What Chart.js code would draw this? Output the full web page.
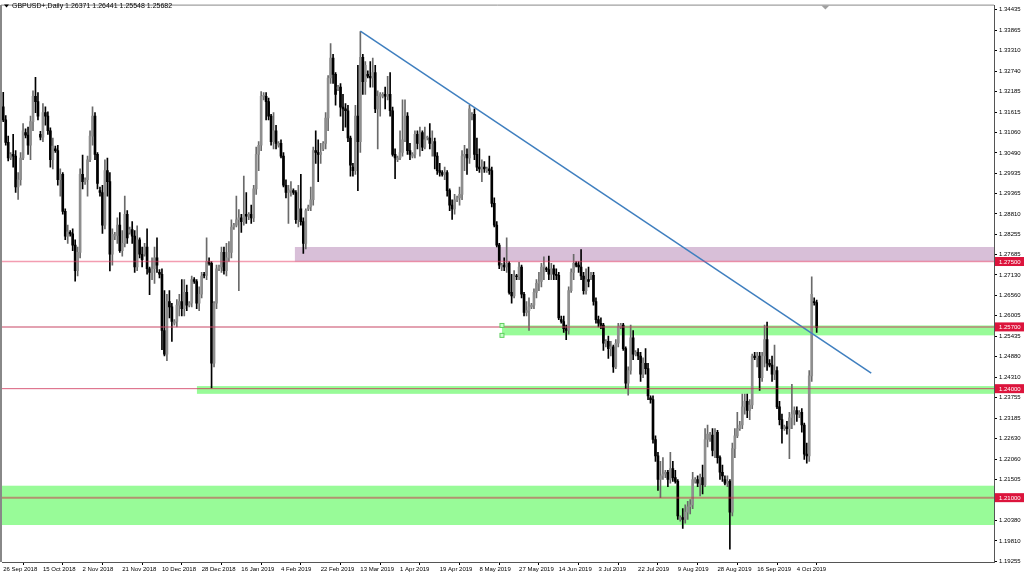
<!DOCTYPE html>
<html><head><meta charset="utf-8">
<script src="https://cdn.jsdelivr.net/npm/chart.js@4.4.1/dist/chart.umd.min.js"></script>
<style>html,body{margin:0;padding:0;background:#fff;overflow:hidden}canvas{display:block}</style>
</head><body>
<canvas id="c" width="1024" height="577"></canvas>
<script>
// ---- Daily GBPUSD candles (bar 0 = 26 Sep 2018, one bar per trading day incl. Sunday bars) ----
const opens = [
1.3176,1.3140,1.3078,1.3035,1.3045,1.3040,1.2955,1.2975,1.3035,1.3105,
1.3098,1.3070,1.3135,1.3205,1.3190,1.3100,1.3092,1.3160,1.3150,1.3110,
1.3030,1.3060,1.3055,1.2975,1.2990,1.2888,1.2820,1.2830,1.2826,1.2795,
1.2725,1.2775,1.2990,1.2970,1.2975,1.3030,1.3095,1.3150,1.3045,1.2945,
1.2940,1.2850,1.3000,1.2970,1.2770,1.2820,1.2822,1.2850,1.2780,1.2800,
1.2880,1.2830,1.2838,1.2820,1.2735,1.2810,1.2770,1.2770,1.2790,1.2730,
1.2720,1.2730,1.2760,1.2720,1.2715,1.2560,1.2495,1.2640,1.2625,1.2580,
1.2585,1.2630,1.2640,1.2620,1.2665,1.2630,1.2635,1.2700,1.2695,1.2635,
1.2660,1.2715,1.2712,1.2750,1.2745,1.2470,1.2635,1.2730,1.2735,1.2775,
1.2725,1.2760,1.2775,1.2845,1.2850,1.2865,1.2870,1.2860,1.2880,1.2875,
1.2880,1.2870,1.2950,1.3045,1.3070,1.3205,1.3205,1.3190,1.3150,1.3080,
1.3110,1.3070,1.3075,1.3040,1.2960,1.2940,1.2945,1.2945,1.2940,1.2865,
1.2895,1.2860,1.2800,1.2895,1.2900,1.2920,1.3055,1.3050,1.3045,1.3060,
1.3075,1.3145,1.3255,1.3310,1.3265,1.3225,1.3230,1.3175,1.3170,1.3165,
1.3090,1.3010,1.3000,1.3150,1.3080,1.3312,1.3245,1.3265,1.3260,1.3255,
1.3270,1.3170,1.3205,1.3205,1.3210,1.3205,1.3210,1.3165,1.3045,1.3030,
1.3035,1.3050,1.3085,1.3150,1.3055,1.3040,1.3045,1.3100,1.3075,1.3105,
1.3065,1.3090,1.3090,1.3075,1.3080,1.3040,1.3000,1.2995,1.2990,1.2995,
1.2945,1.2905,1.2895,1.2920,1.2925,1.2935,1.3040,1.3045,1.3035,1.3150,
1.3155,1.3045,1.3010,1.3005,1.3010,1.3000,1.3005,1.3000,1.2910,1.2850,
1.2795,1.2735,1.2740,1.2735,1.2745,1.2665,1.2655,1.2710,1.2708,1.2735,
1.2660,1.2610,1.2615,1.2625,1.2630,1.2665,1.2690,1.2695,1.2735,1.2730,
1.2728,1.2715,1.2730,1.2715,1.2712,1.2590,1.2585,1.2565,1.2560,1.2670,
1.2720,1.2745,1.2740,1.2735,1.2710,1.2670,1.2700,1.2710,1.2712,1.2640,
1.2590,1.2580,1.2575,1.2525,1.2530,1.2510,1.2515,1.2460,1.2525,1.2570,
1.2575,1.2510,1.2415,1.2450,1.2540,1.2495,1.2500,1.2490,1.2440,1.2470,
1.2455,1.2375,1.2370,1.2260,1.2215,1.2150,1.2160,1.2165,1.2170,1.2150,
1.2180,1.2155,1.2145,1.2040,1.2045,1.2040,1.2060,1.2075,1.2080,1.2145,
1.2150,1.2140,1.2155,1.2135,1.2260,1.2265,1.2272,1.2230,1.2280,1.2210,
1.2170,1.2150,1.2140,1.2145,1.2060,1.2235,1.2270,1.2290,1.2300,1.2350,
1.2365,1.2340,1.2355,1.2490,1.2485,1.2490,1.2430,1.2490,1.2535,1.2470,
1.2465,1.2440,1.2450,1.2350,1.2315,1.2290,1.2295,1.2290,1.2320,1.2330,
1.2340,1.2330,1.2335,1.2300,1.2220,1.2215,1.2435,1.2640,1.26371
];
const highs = [
1.3216,1.3152,1.3095,1.3050,1.3100,1.3055,1.2995,1.3050,1.3130,1.3115,
1.3120,1.3150,1.3220,1.3257,1.3215,1.3108,1.3185,1.3176,1.3162,1.3118,
1.3090,1.3068,1.3070,1.3005,1.2995,1.2895,1.2850,1.2835,1.2840,1.2810,
1.2790,1.3005,1.3043,1.2980,1.3040,1.3110,1.3176,1.3160,1.3050,1.2955,
1.2960,1.3030,1.3035,1.2995,1.2840,1.2830,1.2870,1.2885,1.2835,1.2930,
1.2890,1.2845,1.2860,1.2835,1.2848,1.2815,1.2790,1.2800,1.2840,1.2735,
1.2760,1.2790,1.2815,1.2728,1.2730,1.2670,1.2660,1.2670,1.2635,1.2590,
1.2645,1.2660,1.2700,1.2700,1.2685,1.2640,1.2710,1.2706,1.2700,1.2680,
1.2720,1.2720,1.2815,1.2760,1.2750,1.2640,1.2740,1.2740,1.2790,1.2790,
1.2800,1.2805,1.2865,1.2855,1.2930,1.2893,1.2880,1.2985,1.2940,1.2885,
1.2905,1.2960,1.3065,1.3080,1.3218,1.3215,1.3215,1.3200,1.3155,1.3160,
1.3125,1.3080,1.3085,1.3050,1.2975,1.2960,1.2970,1.2950,1.2945,1.2960,
1.2990,1.2870,1.2895,1.2905,1.2955,1.3065,1.3110,1.3085,1.3075,1.3080,
1.3160,1.3262,1.3350,1.3320,1.3270,1.3235,1.3240,1.3210,1.3185,1.3180,
1.3095,1.3020,1.3180,1.3290,1.3383,1.3320,1.3300,1.3275,1.3300,1.3310,
1.3290,1.3220,1.3215,1.3215,1.3230,1.3260,1.3270,1.3175,1.3060,1.3040,
1.3110,1.3195,1.3195,1.3160,1.3075,1.3050,1.3110,1.3110,1.3120,1.3110,
1.3120,1.3095,1.3130,1.3110,1.3090,1.3050,1.3020,1.3000,1.3010,1.3000,
1.2950,1.2920,1.2935,1.2930,1.2955,1.3055,1.3070,1.3060,1.3180,1.3160,
1.3170,1.3090,1.3060,1.3030,1.3025,1.3010,1.3040,1.3010,1.2925,1.2860,
1.2800,1.2745,1.2760,1.2815,1.2750,1.2715,1.2725,1.2715,1.2748,1.2740,
1.2665,1.2640,1.2650,1.2635,1.2675,1.2700,1.2720,1.2745,1.2763,1.2735,
1.2765,1.2745,1.2740,1.2730,1.2720,1.2600,1.2600,1.2575,1.2680,1.2730,
1.2770,1.2750,1.2750,1.2783,1.2720,1.2730,1.2735,1.2720,1.2720,1.2650,
1.2600,1.2595,1.2580,1.2535,1.2545,1.2530,1.2520,1.2535,1.2580,1.2580,
1.2580,1.2515,1.2460,1.2575,1.2560,1.2505,1.2510,1.2500,1.2485,1.2510,
1.2470,1.2380,1.2380,1.2270,1.2225,1.2200,1.2210,1.2175,1.2175,1.2225,
1.2200,1.2175,1.2150,1.2050,1.2070,1.2080,1.2090,1.2095,1.2170,1.2155,
1.2160,1.2165,1.2190,1.2290,1.2300,1.2280,1.2290,1.2290,1.2285,1.2215,
1.2190,1.2160,1.2160,1.2150,1.2250,1.2290,1.2335,1.2310,1.2385,1.2385,
1.2385,1.2370,1.2495,1.2500,1.2500,1.2500,1.2500,1.2575,1.2583,1.2480,
1.2490,1.2520,1.2460,1.2365,1.2330,1.2300,1.2310,1.2335,1.2412,1.2350,
1.2350,1.2340,1.2345,1.2305,1.2250,1.2450,1.2708,1.2650,1.26441
];
const lows = [
1.3135,1.3070,1.3027,1.3030,1.3010,1.2940,1.2921,1.2960,1.3030,1.3090,
1.3045,1.3030,1.3110,1.3160,1.3140,1.3085,1.3080,1.3125,1.3100,1.3010,
1.3005,1.3050,1.2960,1.2930,1.2880,1.2810,1.2800,1.2820,1.2780,1.2696,
1.2710,1.2760,1.2950,1.2962,1.2930,1.3025,1.3070,1.3030,1.2950,1.2930,
1.2827,1.2840,1.2930,1.2724,1.2740,1.2810,1.2800,1.2775,1.2765,1.2790,
1.2800,1.2825,1.2800,1.2720,1.2725,1.2760,1.2735,1.2765,1.2715,1.2659,
1.2700,1.2690,1.2720,1.2705,1.2507,1.2490,1.2477,1.2595,1.2530,1.2575,
1.2570,1.2600,1.2600,1.2600,1.2615,1.2625,1.2625,1.2690,1.2620,1.2615,
1.2650,1.2705,1.2700,1.2740,1.2402,1.2460,1.2620,1.2725,1.2720,1.2715,
1.2710,1.2750,1.2760,1.2838,1.2845,1.2670,1.2830,1.2850,1.2855,1.2865,
1.2855,1.2860,1.2935,1.3000,1.3055,1.3195,1.3140,1.3140,1.3070,1.3060,
1.3060,1.3065,1.3035,1.2955,1.2925,1.2855,1.2930,1.2935,1.2855,1.2845,
1.2850,1.2772,1.2785,1.2890,1.2890,1.2905,1.3020,1.2970,1.3020,1.3055,
1.3060,1.3110,1.3240,1.3240,1.3180,1.3220,1.3150,1.3110,1.3120,1.3080,
1.2985,1.2985,1.2990,1.2945,1.3050,1.3210,1.3210,1.3255,1.3230,1.3230,
1.3160,1.3060,1.3150,1.3200,1.3170,1.3195,1.3150,1.3040,1.2978,1.3025,
1.3030,1.3040,1.3080,1.3045,1.3030,1.3035,1.3035,1.3060,1.3040,1.3055,
1.3060,1.3085,1.3060,1.3040,1.3005,1.2990,1.2985,1.2985,1.2975,1.2930,
1.2890,1.2866,1.2880,1.2915,1.2905,1.2920,1.3000,1.2990,1.3020,1.3140,
1.3030,1.3000,1.2995,1.2970,1.2995,1.2995,1.2990,1.2900,1.2845,1.2790,
1.2730,1.2725,1.2725,1.2720,1.2660,1.2635,1.2650,1.2700,1.2700,1.2650,
1.2600,1.2600,1.2560,1.2620,1.2620,1.2650,1.2670,1.2680,1.2700,1.2722,
1.2700,1.2700,1.2700,1.2700,1.2590,1.2580,1.2555,1.2535,1.2550,1.2665,
1.2700,1.2735,1.2720,1.2700,1.2660,1.2660,1.2680,1.2700,1.2630,1.2580,
1.2570,1.2565,1.2505,1.2515,1.2483,1.2490,1.2445,1.2455,1.2515,1.2565,
1.2505,1.2400,1.2382,1.2440,1.2480,1.2490,1.2480,1.2420,1.2430,1.2440,
1.2370,1.2360,1.2250,1.2200,1.2120,1.2100,1.2150,1.2155,1.2130,1.2140,
1.2145,1.2140,1.2040,1.2035,1.2015,1.2030,1.2040,1.2055,1.2070,1.2140,
1.2130,1.2105,1.2110,1.2130,1.2240,1.2255,1.2215,1.2210,1.2195,1.2150,
1.2145,1.2135,1.2130,1.1958,1.2050,1.2210,1.2265,1.2285,1.2290,1.2330,
1.2320,1.2315,1.2345,1.2480,1.2460,1.2395,1.2420,1.2460,1.2450,1.2460,
1.2420,1.2425,1.2345,1.2300,1.2250,1.2285,1.2275,1.2207,1.2290,1.2300,
1.2310,1.2320,1.2280,1.2205,1.2195,1.2200,1.2420,1.2630,1.25548
];
const closes = [
1.3140,1.3078,1.3035,1.3045,1.3040,1.2955,1.2975,1.3035,1.3110,1.3098,
1.3070,1.3135,1.3205,1.3190,1.3150,1.3092,1.3160,1.3150,1.3110,1.3030,
1.3068,1.3055,1.2975,1.2990,1.2888,1.2820,1.2832,1.2826,1.2795,1.2725,
1.2775,1.2990,1.2970,1.2975,1.3030,1.3095,1.3150,1.3045,1.2965,1.2940,
1.2850,1.3000,1.2970,1.2770,1.2825,1.2822,1.2850,1.2780,1.2800,1.2880,
1.2815,1.2838,1.2820,1.2735,1.2810,1.2770,1.2755,1.2790,1.2730,1.2720,
1.2730,1.2760,1.2740,1.2715,1.2560,1.2495,1.2640,1.2625,1.2585,1.2585,
1.2630,1.2640,1.2620,1.2665,1.2630,1.2635,1.2700,1.2695,1.2635,1.2660,
1.2710,1.2712,1.2750,1.2745,1.2470,1.2635,1.2730,1.2735,1.2775,1.2725,
1.2760,1.2775,1.2845,1.2850,1.2865,1.2870,1.2860,1.2880,1.2875,1.2880,
1.2870,1.2950,1.3045,1.3070,1.3205,1.3205,1.3190,1.3150,1.3080,1.3110,
1.3075,1.3075,1.3040,1.2960,1.2940,1.2945,1.2950,1.2940,1.2865,1.2895,
1.2860,1.2800,1.2890,1.2900,1.2920,1.3055,1.3050,1.3045,1.3050,1.3075,
1.3145,1.3255,1.3310,1.3265,1.3210,1.3230,1.3175,1.3170,1.3165,1.3090,
1.3015,1.3000,1.3150,1.3080,1.3312,1.3245,1.3290,1.3260,1.3255,1.3270,
1.3170,1.3205,1.3210,1.3210,1.3205,1.3210,1.3165,1.3045,1.3035,1.3035,
1.3050,1.3085,1.3150,1.3055,1.3045,1.3045,1.3100,1.3075,1.3105,1.3065,
1.3085,1.3090,1.3075,1.3080,1.3040,1.3000,1.2995,1.2990,1.2995,1.2945,
1.2905,1.2895,1.2920,1.2925,1.2935,1.3040,1.3045,1.3035,1.3170,1.3150,
1.3045,1.3010,1.3005,1.3010,1.3005,1.3005,1.3000,1.2910,1.2850,1.2795,
1.2740,1.2740,1.2735,1.2745,1.2665,1.2655,1.2710,1.2708,1.2735,1.2660,
1.2610,1.2615,1.2625,1.2630,1.2665,1.2690,1.2695,1.2735,1.2740,1.2728,
1.2715,1.2730,1.2715,1.2712,1.2595,1.2585,1.2565,1.2560,1.2670,1.2720,
1.2745,1.2740,1.2735,1.2710,1.2670,1.2700,1.2695,1.2712,1.2640,1.2590,
1.2580,1.2575,1.2525,1.2530,1.2510,1.2515,1.2460,1.2525,1.2570,1.2575,
1.2510,1.2415,1.2450,1.2540,1.2495,1.2500,1.2490,1.2440,1.2470,1.2455,
1.2380,1.2370,1.2260,1.2215,1.2150,1.2160,1.2165,1.2170,1.2150,1.2180,
1.2155,1.2145,1.2050,1.2045,1.2040,1.2060,1.2075,1.2080,1.2150,1.2150,
1.2140,1.2155,1.2135,1.2260,1.2275,1.2272,1.2230,1.2280,1.2210,1.2170,
1.2160,1.2140,1.2145,1.2060,1.2235,1.2270,1.2290,1.2300,1.2350,1.2365,
1.2340,1.2355,1.2490,1.2485,1.2490,1.2430,1.2490,1.2535,1.2470,1.2465,
1.2440,1.2450,1.2350,1.2315,1.2290,1.2295,1.2290,1.2320,1.2330,1.2340,
1.2330,1.2335,1.2300,1.2220,1.2215,1.2435,1.2660,1.2637,1.25682
];
// date labels shown every 16 bars
const tickLabels = ['26 Sep 2018','15 Oct 2018','2 Nov 2018','21 Nov 2018','10 Dec 2018','28 Dec 2018',
  '16 Jan 2019','4 Feb 2019','22 Feb 2019','13 Mar 2019','1 Apr 2019','19 Apr 2019','8 May 2019',
  '27 May 2019','14 Jun 2019','3 Jul 2019','22 Jul 2019','9 Aug 2019','28 Aug 2019','16 Sep 2019','4 Oct 2019'];
const yTickValues = [1.34435,1.33865,1.33310,1.32740,1.32185,1.31615,1.31060,1.30490,1.29935,1.29365,
  1.28810,1.28255,1.27685,1.27130,1.26560,1.26005,1.25435,1.24880,1.24310,1.23755,1.23185,1.22630,
  1.22060,1.21505,1.20935,1.20380,1.19810,1.19255];
// horizontal levels and zones (prices)
const levelPrices = [1.2750, 1.2570, 1.2400, 1.2100];
const zoneHighs = [1.2790, 1.25740, 1.24071, 1.21329];
const zoneLows  = [1.2750, 1.25467, 1.23858, 1.20247];
const zoneStartBar = [117.6, 201.1, 78.1, null];
// trend line anchors: [bar index, price]
const trendLine = [[144, 1.3384], [350, 1.2443]];
const titleText = 'GBPUSD+,Daily 1.26371 1.26441 1.25548 1.25682';

const TICK_EVERY = 16, TOTAL_SLOTS = 400;
const Y_MIN = 1.19229, Y_MAX = 1.34544;
const N = opens.length;
const labels = Array.from({length: TOTAL_SLOTS}, (_, i) => i);
const bodyData = labels.map(i => i < N ? [opens[i], closes[i]] : null);
const wickData = labels.map(i => i < N ? [lows[i], highs[i]] : null);
const trendData = labels.map(() => null);
trendLine.forEach(([i, p]) => { trendData[i] = p; });
const isBull = i => i < N && closes[i] >= opens[i];
const FONT = '"Liberation Sans", Arial, sans-serif';
const zoneColors = ['#d8bfd8', '#98fb98', '#98fb98', '#98fb98'];
const levelColors = ['rgba(232,60,100,0.5)', 'rgba(200,70,100,0.5)', 'rgba(205,40,80,0.75)', 'rgba(205,40,70,0.5)'];
const levelWidths = [1.6, 2, 1, 2];

const overlay = {
  id: 'overlay',
  beforeDatasetsDraw(chart) {
    const {ctx, chartArea: a, scales: {x, y}} = chart;
    ctx.save();
    ctx.beginPath(); ctx.rect(a.left, a.top, a.width, a.height); ctx.clip();
    zoneLows.forEach((lo, k) => {
      const x0 = zoneStartBar[k] === null ? a.left : x.getPixelForValue(zoneStartBar[k]);
      const yt = y.getPixelForValue(zoneHighs[k]), yb = y.getPixelForValue(lo);
      ctx.fillStyle = zoneColors[k];
      ctx.fillRect(x0, yt, a.right - x0, yb - yt);
    });
    ctx.restore();
  },
  afterDatasetsDraw(chart) {
    const {ctx, chartArea: a, scales: {x, y}} = chart;
    ctx.save();
    ctx.beginPath(); ctx.rect(a.left, a.top, a.width, a.height); ctx.clip();
    levelPrices.forEach((p, k) => {
      const yy = y.getPixelForValue(p);
      ctx.strokeStyle = levelColors[k]; ctx.lineWidth = levelWidths[k];
      ctx.beginPath(); ctx.moveTo(a.left, yy); ctx.lineTo(a.right, yy); ctx.stroke();
    });
    // selection handles of the upper green zone
    const hx = x.getPixelForValue(zoneStartBar[1]);
    [zoneHighs[1], zoneLows[1]].forEach(p => {
      const yy = y.getPixelForValue(p);
      ctx.fillStyle = '#c8ffc8'; ctx.fillRect(hx - 2, yy - 2, 4, 4);
      ctx.strokeStyle = '#5fcf5f'; ctx.lineWidth = 1; ctx.strokeRect(hx - 2, yy - 2, 4, 4);
    });
    ctx.restore();
  },
  afterDraw(chart) {
    const {ctx, chartArea: a, scales: {x, y}} = chart;
    ctx.save();
    // frame
    ctx.strokeStyle = '#888'; ctx.lineWidth = 2;
    ctx.beginPath(); ctx.moveTo(a.left - 1, a.bottom); ctx.lineTo(a.left - 1, a.top - 0.5); ctx.stroke();
    ctx.lineWidth = 1;
    ctx.beginPath(); ctx.moveTo(a.left - 1, a.top - 0.5); ctx.lineTo(a.right, a.top - 0.5); ctx.stroke();
    // price labels of horizontal levels
    ctx.font = '6px ' + FONT;
    ctx.textBaseline = 'middle'; ctx.textAlign = 'left';
    levelPrices.forEach(p => {
      const yy = y.getPixelForValue(p);
      ctx.fillStyle = '#dc143c'; ctx.fillRect(a.right + 1, yy - 4.5, 29, 9);
      ctx.fillStyle = '#fff'; ctx.fillText(p.toFixed(5), a.right + 5, yy + 0.5);
    });
    // title
    ctx.fillStyle = '#000';
    ctx.beginPath(); ctx.moveTo(4, 4.5); ctx.lineTo(9, 4.5); ctx.lineTo(6.5, 7.5); ctx.closePath(); ctx.fill();
    ctx.font = '7px ' + FONT;
    ctx.fillText(titleText, 12, 6.5);
    // chart shift marker
    const sx = x.getPixelForValue(331.5);
    ctx.fillStyle = '#a0a0a0';
    ctx.beginPath(); ctx.moveTo(sx - 4, a.top); ctx.lineTo(sx + 4, a.top); ctx.lineTo(sx, a.top + 4); ctx.closePath(); ctx.fill();
    ctx.restore();
  }
};

new Chart(document.getElementById('c').getContext('2d'), {
  type: 'bar',
  data: {
    labels,
    datasets: [
      {type: 'line', data: trendData, borderColor: '#3f7fbf', borderWidth: 1.5, pointRadius: 0,
       spanGaps: true, fill: false, order: 0},
      {data: bodyData, barThickness: 2, minBarLength: 1, grouped: false, order: 1,
       backgroundColor: c => isBull(c.dataIndex) ? '#8e8e8e' : '#000'},
      {data: wickData, barThickness: 1, grouped: false, order: 2,
       backgroundColor: c => isBull(c.dataIndex) ? '#6a6a6a' : '#000'}
    ]
  },
  options: {
    responsive: false, animation: false, devicePixelRatio: 1,
    layout: {padding: {left: 2, top: 1, right: 0, bottom: 0}},
    plugins: {legend: {display: false}, tooltip: {enabled: false}},
    scales: {
      x: {
        type: 'category', offset: true,
        grid: {drawOnChartArea: false, drawTicks: true, tickLength: 3, color: '#000'},
        border: {display: true, color: '#555'},
        ticks: {autoSkip: false, maxRotation: 0, minRotation: 0, align: 'start', padding: 1,
          color: '#000', font: {family: FONT, size: 6},
          callback: v => tickLabels[v / TICK_EVERY]},
        afterBuildTicks: s => { s.ticks = s.ticks.filter(t => t.value % TICK_EVERY === 0 && t.value / TICK_EVERY < tickLabels.length); },
        afterFit: s => { s.height = 15; }
      },
      y: {
        position: 'right', min: Y_MIN, max: Y_MAX,
        grid: {drawOnChartArea: false, drawTicks: true, tickLength: 3, color: '#000'},
        border: {display: true, color: '#555'},
        ticks: {padding: 2, color: '#000', font: {family: FONT, size: 6}, callback: v => v.toFixed(5)},
        afterBuildTicks: s => { s.ticks = yTickValues.map(v => ({value: v})); },
        afterFit: s => { s.width = 30; }
      }
    }
  },
  plugins: [overlay]
});
</script>
</body></html>
